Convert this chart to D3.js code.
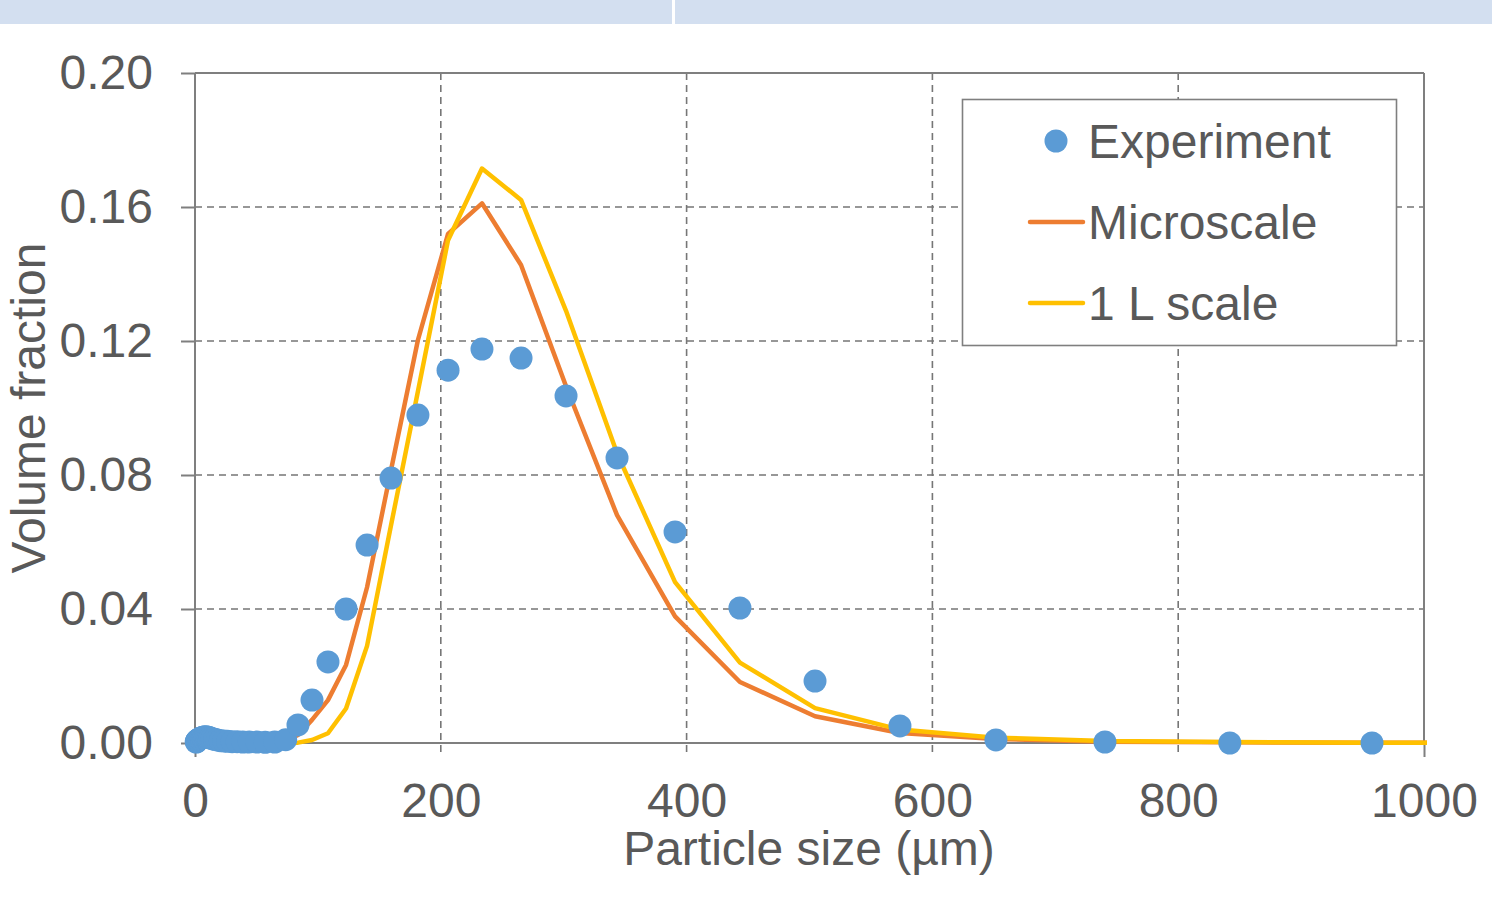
<!DOCTYPE html>
<html>
<head>
<meta charset="utf-8">
<script src="https://cdn.jsdelivr.net/npm/d3@7"></script>
<style>
  html, body { margin: 0; padding: 0; background: #ffffff; }
  svg { display: block; font-family: "Liberation Sans", Arial, sans-serif; }
</style>
</head>
<body>
<svg id="chart" width="1492" height="901"></svg>
<script>
// Particle size distribution: measured volume fractions vs. two model predictions
const expSizes = [1.0, 1.2, 1.4, 1.6, 1.8, 2.1, 2.3, 2.7, 3.0, 3.4, 3.9, 4.4, 5.0, 5.7, 6.5, 7.4,
  8.4, 9.6, 10.9, 12.3, 14.0, 15.9, 18.1, 20.6, 23.4, 26.5, 30.2, 34.3, 38.9, 44.2, 50.3, 57.1,
  64.9, 73.8, 83.8, 95.2, 108.2, 122.9, 140.0, 159.5, 181.4, 205.9, 233.5, 265.3, 301.9, 343.4,
  390.6, 443.4, 504.5, 573.6, 651.7, 740.4, 842.0, 957.7];
const experiment = [0.0003, 0.0004, 0.0005, 0.0006, 0.0007, 0.0008, 0.0009, 0.0010, 0.0011, 0.0012,
  0.0013, 0.0014, 0.0015, 0.0016, 0.0017, 0.0018, 0.0019, 0.0018, 0.0017, 0.0015, 0.0013, 0.0011,
  0.0009, 0.0007, 0.0006, 0.0005, 0.0004, 0.0004, 0.0003, 0.0003, 0.0003, 0.0002, 0.0003, 0.0010,
  0.0054, 0.0128, 0.0242, 0.0400, 0.0591, 0.0791, 0.0979, 0.1113, 0.1176, 0.1149, 0.1036, 0.0851,
  0.0630, 0.0403, 0.0185, 0.0051, 0.0009, 0.0003, 0.0000, 0.0000];

const modelSizes = [1.0, 57.1, 64.9, 73.8, 83.8, 95.2, 108.2, 122.9, 140.0, 159.5, 181.4, 205.9,
  233.5, 265.3, 301.9, 343.4, 390.6, 443.4, 504.5, 573.6, 651.7, 740.4, 842.0, 957.7, 1088.0];
const microscale = [0.0000, 0.0000, 0.0000, 0.0006, 0.0024, 0.0069, 0.0128, 0.0233, 0.0465, 0.0815,
  0.1203, 0.1520, 0.1611, 0.1427, 0.1065, 0.0680, 0.0378, 0.0182, 0.0080, 0.0030, 0.0012, 0.0004,
  0.0002, 0.0001, 0.0000];
const oneLitre = [0.0000, 0.0000, 0.0000, 0.0000, 0.0001, 0.0009, 0.0029, 0.0103, 0.0290, 0.0650,
  0.1050, 0.1501, 0.1715, 0.1621, 0.1290, 0.0865, 0.0480, 0.0240, 0.0104, 0.0040, 0.0016, 0.0006,
  0.0003, 0.0001, 0.0000];

const xTicks = [0, 200, 400, 600, 800, 1000];
const yTicks = [0, 0.04, 0.08, 0.12, 0.16, 0.20];
const seriesNames = ["Experiment", "Microscale", "1 L scale"];

const colors = { exp: "#5b9bd5", micro: "#ed7d31", litre: "#ffc000" };
const axisColor = "#7f7f7f";
const gridColor = "#767676";
const textColor = "#595959";

const svg = d3.select("#chart");

// header strip
svg.append("rect").attr("x", 0).attr("y", 0).attr("width", 672).attr("height", 24).attr("fill", "#d3dff0");
svg.append("rect").attr("x", 675).attr("y", 0).attr("width", 817).attr("height", 24).attr("fill", "#d3dff0");

const x = d3.scaleLinear().domain([0, 1000]).range([195, 1424]);
const y = d3.scaleLinear().domain([0, 0.2]).range([743, 73]);

// dashed grid
const grid = svg.append("g");
grid.selectAll("line.vg").data(xTicks.filter(v => v > 0 && v < 1000)).join("line")
  .attr("x1", d => x(d)).attr("x2", d => x(d)).attr("y1", y(0.2)).attr("y2", y(0) + 14)
  .attr("stroke", gridColor).attr("stroke-width", 1.6).attr("stroke-dasharray", "7,5");
grid.selectAll("line.hg").data(yTicks.filter(v => v > 0 && v < 0.2)).join("line")
  .attr("x1", x(0)).attr("x2", x(1000)).attr("y1", d => y(d)).attr("y2", d => y(d))
  .attr("stroke", gridColor).attr("stroke-width", 1.6).attr("stroke-dasharray", "7,5");

// axes
const fontSize = 48;
const yAxis = d3.axisLeft(y).tickValues(yTicks).tickSize(14).tickPadding(28).tickFormat(d3.format(".2f"));
const xAxis = d3.axisBottom(x).tickValues(xTicks).tickSize(14).tickPadding(26).tickFormat(d3.format("d"));

const gy = svg.append("g").attr("transform", `translate(${x(0)},0)`).call(yAxis);
const gx = svg.append("g").attr("transform", `translate(0,${y(0)})`).call(xAxis);
[gx, gy].forEach(g => {
  g.select(".domain").remove();
  g.selectAll(".tick line").attr("stroke", axisColor).attr("stroke-width", 2);
  g.selectAll(".tick text").attr("fill", textColor).attr("font-size", fontSize)
    .attr("font-family", "'Liberation Sans', Arial, sans-serif");
});
gx.selectAll(".tick").filter(d => d > 0 && d < 1000).select("line").remove();

// plot frame
const frame = svg.append("g").attr("stroke", axisColor).attr("stroke-width", 2).attr("fill", "none");
frame.append("line").attr("x1", x(0)).attr("x2", x(0)).attr("y1", y(0.2)).attr("y2", y(0));
frame.append("line").attr("x1", x(1000)).attr("x2", x(1000)).attr("y1", y(0.2)).attr("y2", y(0));
frame.append("line").attr("x1", x(0)).attr("x2", x(1000)).attr("y1", y(0.2)).attr("y2", y(0.2));
frame.append("line").attr("x1", x(0)).attr("x2", x(1000)).attr("y1", y(0)).attr("y2", y(0));

// model curves
svg.append("clipPath").attr("id", "plotClip").append("rect")
  .attr("x", 0).attr("y", 0).attr("width", x(1000) + 3).attr("height", 901);

const line = d3.line().x(d => x(d[0])).y(d => y(d[1]));
const curves = svg.append("g").attr("clip-path", "url(#plotClip)");
curves.append("path").datum(d3.zip(modelSizes, microscale)).attr("d", line)
  .attr("fill", "none").attr("stroke", colors.micro).attr("stroke-width", 4.5).attr("stroke-linejoin", "round");
curves.append("path").datum(d3.zip(modelSizes, oneLitre)).attr("d", line)
  .attr("fill", "none").attr("stroke", colors.litre).attr("stroke-width", 4.5).attr("stroke-linejoin", "round");

// measured points
svg.append("g").selectAll("circle").data(d3.zip(expSizes, experiment)).join("circle")
  .attr("cx", d => x(d[0])).attr("cy", d => y(d[1])).attr("r", 11.5).attr("fill", colors.exp);

// axis titles
svg.append("text").attr("x", 809).attr("y", 865).attr("text-anchor", "middle")
  .attr("font-size", fontSize).attr("fill", textColor).text("Particle size (µm)");
svg.append("text").attr("transform", "translate(45,408) rotate(-90)").attr("text-anchor", "middle")
  .attr("font-size", fontSize).attr("fill", textColor).text("Volume fraction");

// legend
const lg = svg.append("g");
lg.append("rect").attr("x", 962.5).attr("y", 99.5).attr("width", 434).attr("height", 246)
  .attr("fill", "#ffffff").attr("stroke", axisColor).attr("stroke-width", 1.6);
const rows = [141, 222, 303];
lg.append("circle").attr("cx", 1056).attr("cy", rows[0]).attr("r", 11.5).attr("fill", colors.exp);
lg.append("line").attr("x1", 1030).attr("x2", 1083).attr("y1", rows[1]).attr("y2", rows[1])
  .attr("stroke", colors.micro).attr("stroke-width", 4.5).attr("stroke-linecap", "round");
lg.append("line").attr("x1", 1030).attr("x2", 1083).attr("y1", rows[2]).attr("y2", rows[2])
  .attr("stroke", colors.litre).attr("stroke-width", 4.5).attr("stroke-linecap", "round");
lg.selectAll("text").data(seriesNames).join("text")
  .attr("x", 1088).attr("y", (d, i) => rows[i] + 17)
  .attr("font-size", fontSize).attr("fill", textColor).text(d => d);
</script>
</body>
</html>
